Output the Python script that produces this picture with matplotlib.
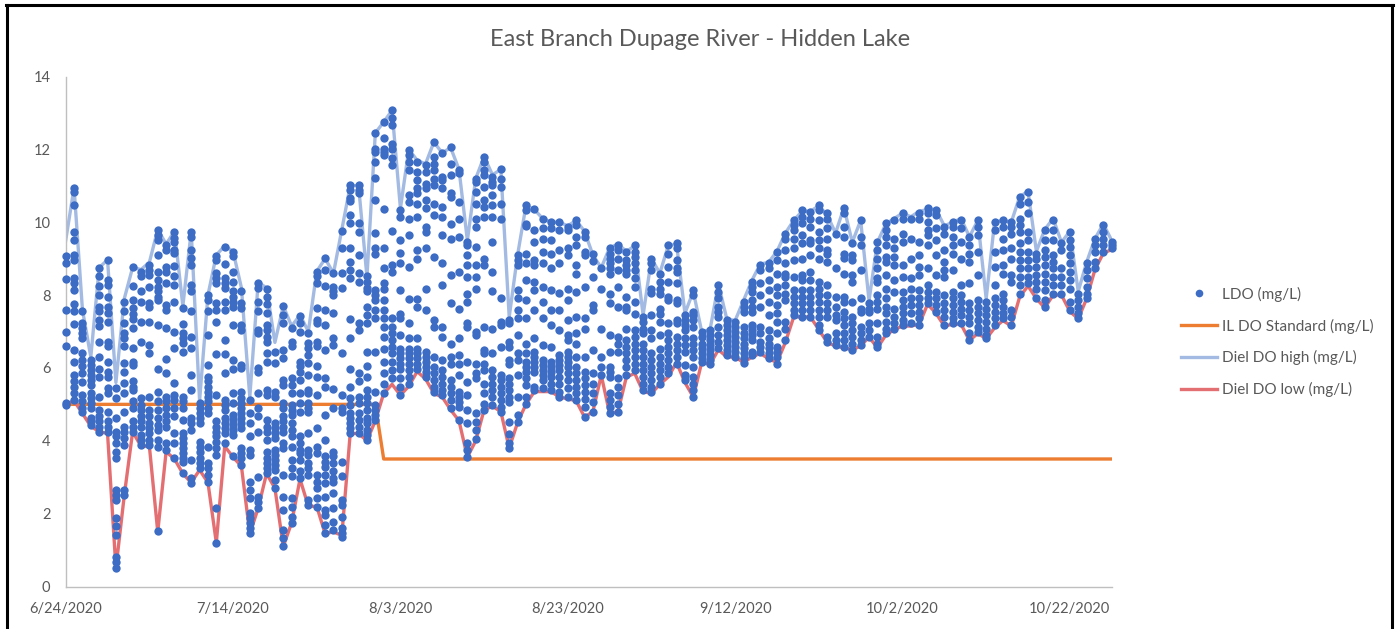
import matplotlib
matplotlib.use("Agg")
import matplotlib.pyplot as plt
import numpy as np
import pandas as pd
from matplotlib.lines import Line2D

dates = pd.date_range("2020-06-24", periods=126)
tick_dates = pd.to_datetime(["2020-06-24", "2020-07-14", "2020-08-03", "2020-08-23",
                             "2020-09-12", "2020-10-02", "2020-10-22"])
tick_labels = ["6/24/2020", "7/14/2020", "8/3/2020", "8/23/2020",
               "9/12/2020", "10/2/2020", "10/22/2020"]
y_ticks = [0, 2, 4, 6, 8, 10, 12, 14]

diel_high = [
    9.5, 10.95, 7.6, 6.3, 8.75, 8.97, 5.6, 7.9, 8.76, 8.7, 8.9, 9.8, 9.4, 9.75, 7.7, 9.75, 5.1, 8.0, 9.1, 9.35,
    9.2, 8.2, 5.2, 8.35, 8.2, 6.7, 7.7, 7.15, 7.45, 7.0, 8.65, 9.0, 8.6, 9.8, 11.0, 11.0, 8.5, 12.45, 12.75, 13.07,
    10.38, 12.0, 11.7, 11.6, 12.2, 11.9, 12.05, 11.45, 9.5, 11.2, 11.8, 11.3, 11.45, 7.4, 9.1, 10.45, 10.35, 10.1, 10.0, 10.0,
    9.9, 10.05, 9.75, 9.1, 8.75, 9.3, 9.4, 9.2, 9.35, 7.45, 9.0, 8.6, 9.35, 9.4, 7.5, 8.1, 7.0, 7.05, 8.3, 7.35,
    7.3, 7.85, 8.4, 8.85, 8.9, 9.2, 9.7, 10.05, 10.3, 10.3, 10.45, 10.2, 9.7, 10.4, 9.45, 10.05, 7.85, 9.45, 9.95, 10.1,
    10.25, 10.15, 10.3, 10.35, 10.35, 9.9, 10.0, 10.1, 9.6, 10.05, 7.9, 10.0, 10.05, 10.0, 10.7, 10.85, 9.2, 9.8, 10.1, 9.45,
    9.75, 8.1, 8.9, 9.55, 9.95, 9.5,
]
diel_low = [
    5.0, 5.1, 4.75, 4.4, 4.25, 4.2, 0.5, 2.5, 4.25, 3.85, 3.85, 1.5, 3.7, 3.5, 3.1, 2.85, 3.2, 2.85, 1.2, 3.85,
    3.55, 3.3, 1.45, 2.15, 3.1, 2.7, 1.1, 1.75, 2.95, 2.2, 2.2, 1.45, 1.5, 1.4, 4.2, 4.2, 4.0, 4.55, 5.3, 5.55,
    5.25, 5.5, 5.9, 5.7, 5.3, 5.2, 4.85, 4.55, 3.55, 4.0, 4.85, 4.95, 4.8, 3.8, 4.5, 5.0, 5.35, 5.35, 5.35, 5.2,
    5.15, 5.1, 4.65, 4.8, 5.8, 4.75, 4.8, 5.75, 5.85, 5.35, 5.3, 5.55, 5.75, 6.15, 5.6, 5.2, 6.15, 6.1, 6.5, 6.3,
    6.3, 6.15, 6.3, 6.4, 6.25, 6.15, 6.7, 7.4, 7.4, 7.4, 7.05, 6.7, 6.6, 6.55, 6.5, 6.6, 6.85, 6.55, 6.9, 7.05,
    7.15, 7.15, 7.2, 7.75, 7.5, 7.15, 7.2, 7.2, 6.75, 6.95, 6.8, 7.1, 7.3, 7.15, 7.95, 8.25, 7.9, 7.65, 8.0, 8.0,
    7.55, 7.35, 7.9, 8.7, 9.15, 9.25,
]
il_standard = [5.0] * 38 + [3.5] * 88

ldo = [
    [9.06, 8.87, 8.43, 7.59, 7.0, 6.59, 5.05, 4.98],
    [10.93, 10.84, 10.47, 9.74, 9.5, 9.1, 8.97, 8.46, 8.32, 8.14, 7.76, 7.55, 7.21, 6.48, 6.15, 5.81, 5.63, 5.49, 5.3, 5.12],
    [7.55, 7.23, 7.09, 6.95, 6.82, 6.4, 6.22, 6.04, 5.85, 5.62, 5.26, 5.08, 4.89, 4.8],
    [6.22, 6.08, 5.95, 5.81, 5.67, 5.53, 5.3, 5.17, 5.03, 4.89, 4.62, 4.53, 4.44],
    [8.74, 8.51, 8.25, 8.0, 7.68, 7.55, 7.32, 7.14, 6.71, 6.3, 5.96, 5.74, 5.19, 4.85, 4.67, 4.53, 4.39, 4.25],
    [8.97, 8.42, 8.28, 7.96, 7.68, 7.5, 7.27, 6.7, 6.6, 6.17, 5.9, 5.76, 5.44, 5.3, 4.8, 4.53, 4.39, 4.25],
    [5.44, 5.17, 4.62, 4.25, 4.12, 3.93, 3.7, 3.52, 2.65, 2.51, 2.38, 1.87, 1.65, 1.42, 0.82, 0.68, 0.5],
    [7.82, 7.55, 7.23, 6.95, 6.82, 6.59, 6.13, 5.9, 5.58, 5.3, 4.8, 4.39, 4.25, 4.07, 3.89, 2.65, 2.51],
    [8.76, 8.25, 7.87, 7.64, 7.48, 7.34, 7.09, 6.54, 6.17, 6.08, 5.63, 5.49, 5.4, 5.08, 4.89, 4.53, 4.39, 4.25],
    [8.64, 8.51, 8.1, 7.82, 7.27, 6.72, 5.17, 4.98, 4.85, 4.67, 4.53, 4.39, 4.16, 4.03, 3.89],
    [8.83, 8.69, 8.55, 8.23, 7.78, 7.68, 7.27, 6.63, 6.4, 5.21, 4.85, 4.67, 4.48, 4.35, 4.21, 4.03, 3.89],
    [9.79, 9.65, 9.51, 9.1, 8.64, 8.42, 8.23, 8.1, 7.96, 7.87, 7.18, 5.96, 5.35, 5.08, 4.85, 4.62, 4.44, 4.3, 4.03, 3.84, 1.51],
    [9.38, 9.24, 8.78, 8.64, 8.32, 7.73, 7.59, 7.09, 6.24, 5.85, 5.21, 5.08, 4.89, 4.71, 4.53, 4.39, 3.93, 3.75],
    [9.74, 9.56, 9.47, 9.24, 9.15, 8.8, 8.53, 8.28, 7.82, 7.0, 6.54, 5.6, 5.26, 5.12, 4.89, 4.67, 4.21, 3.93, 3.52],
    [7.64, 7.2, 6.95, 6.82, 6.68, 6.45, 5.21, 5.08, 4.89, 4.57, 4.21, 4.07, 3.93, 3.8, 3.66, 3.52, 3.43, 3.11],
    [9.74, 9.6, 9.24, 9.01, 8.83, 8.28, 8.1, 7.57, 6.86, 6.54, 5.81, 5.4, 4.62, 4.48, 4.3, 3.48, 2.97, 2.83],
    [5.03, 4.89, 4.76, 4.62, 4.48, 3.98, 3.84, 3.7, 3.52, 3.39, 3.25],
    [8.0, 7.87, 7.55, 6.91, 6.08, 5.76, 5.63, 5.49, 5.35, 5.21, 5.08, 4.89, 4.76, 3.84, 3.39, 3.25, 3.06, 2.88],
    [9.06, 8.97, 8.6, 8.46, 8.32, 7.78, 7.59, 7.25, 6.39, 5.26, 4.53, 4.39, 4.25, 4.12, 3.98, 3.8, 3.61, 2.15, 1.19],
    [9.33, 8.86, 8.46, 8.32, 8.19, 7.82, 7.59, 6.77, 6.39, 5.87, 5.12, 4.98, 4.85, 4.62, 4.48, 4.35, 4.21, 3.93],
    [9.19, 9.06, 8.64, 8.37, 8.1, 7.96, 7.82, 7.68, 7.18, 6.22, 5.96, 5.3, 5.03, 4.71, 4.57, 4.44, 4.3, 4.16, 3.57],
    [8.1, 7.78, 7.64, 7.18, 7.04, 6.08, 5.99, 5.35, 5.17, 5.03, 4.89, 4.76, 4.62, 4.48, 4.35, 3.8, 3.66, 3.52, 3.34],
    [5.12, 4.76, 4.48, 4.12, 3.75, 3.61, 2.88, 2.65, 2.42, 2.01, 1.87, 1.74, 1.6, 1.46],
    [8.32, 8.19, 7.82, 7.55, 7.04, 6.95, 5.99, 5.9, 5.3, 4.89, 4.67, 4.25, 3.0, 2.47, 2.33, 2.15],
    [8.17, 7.96, 7.76, 7.5, 7.18, 7.04, 6.86, 6.72, 6.4, 6.17, 5.4, 5.26, 4.57, 4.39, 4.25, 4.03, 3.7, 3.52, 3.39, 3.25, 3.11],
    [6.45, 6.13, 5.35, 5.21, 4.48, 4.35, 4.21, 4.07, 3.75, 3.61, 3.48, 3.34, 3.2, 2.93, 2.7],
    [7.7, 7.46, 7.23, 6.5, 6.27, 5.67, 5.53, 5.03, 4.89, 4.67, 4.53, 4.39, 4.25, 3.93, 3.8, 3.06, 2.47, 2.1, 1.55, 1.32, 1.1],
    [7.09, 6.72, 6.59, 5.72, 5.53, 5.3, 4.98, 4.85, 4.71, 4.48, 4.3, 4.12, 3.84, 3.48, 3.25, 3.02, 2.42, 2.19, 1.92, 1.74],
    [7.43, 7.23, 7.0, 6.17, 6.04, 5.9, 5.67, 5.3, 5.03, 4.8, 4.12, 3.93, 3.75, 3.66, 3.48, 3.16, 2.97],
    [6.95, 6.68, 6.54, 6.36, 6.13, 5.81, 5.4, 5.3, 5.03, 4.89, 4.8, 4.21, 3.75, 3.61, 3.39, 3.25, 3.06, 2.38, 2.24],
    [8.64, 8.51, 8.32, 7.64, 7.32, 7.23, 6.72, 6.59, 6.04, 5.76, 5.26, 4.35, 3.84, 3.66, 3.06, 2.88, 2.7, 2.42, 2.19],
    [9.01, 8.69, 8.25, 7.59, 7.18, 6.5, 5.72, 5.49, 4.71, 4.03, 3.57, 3.43, 3.29, 3.06, 2.83, 2.47, 2.1, 1.97, 1.69, 1.46],
    [8.6, 8.23, 8.1, 8.0, 7.5, 6.82, 6.63, 5.41, 4.89, 3.7, 3.57, 3.39, 3.16, 2.97, 2.88, 2.56, 2.15, 1.78, 1.55],
    [9.77, 9.29, 8.6, 8.19, 6.42, 5.26, 4.89, 4.8, 3.43, 3.02, 2.38, 2.24, 1.92, 1.6, 1.46, 1.37],
    [11.02, 10.89, 10.66, 10.57, 10.2, 9.99, 9.29, 8.92, 8.69, 8.46, 7.34, 6.82, 5.96, 5.49, 5.17, 4.98, 4.76, 4.62, 4.48, 4.35, 4.21],
    [11.02, 10.89, 10.8, 9.99, 9.74, 9.1, 8.6, 8.37, 7.23, 7.04, 5.85, 5.63, 5.21, 5.03, 4.76, 4.57, 4.39, 4.21],
    [8.51, 8.37, 8.19, 8.1, 7.68, 7.46, 7.23, 6.45, 6.06, 5.76, 5.4, 5.21, 5.03, 4.85, 4.62, 4.48, 4.3, 4.16, 4.03],
    [12.45, 12.02, 11.93, 11.66, 11.22, 10.62, 9.71, 9.28, 9.14, 8.13, 8.0, 7.86, 7.59, 7.36, 6.44, 5.35, 4.98, 4.85, 4.71, 4.57],
    [12.76, 12.32, 12.02, 11.93, 11.84, 10.35, 9.28, 8.75, 8.32, 8.18, 7.86, 7.59, 7.36, 7.13, 6.85, 6.53, 6.17, 5.85, 5.57, 5.3],
    [13.07, 12.85, 12.66, 12.16, 12.02, 11.75, 11.57, 9.76, 8.82, 8.64, 7.36, 7.13, 6.95, 6.76, 6.58, 6.4, 6.17, 5.94, 5.71],
    [10.33, 10.15, 9.51, 9.16, 8.87, 8.15, 7.49, 7.36, 6.9, 6.53, 6.4, 6.26, 6.12, 5.98, 5.71, 5.48, 5.25],
    [11.98, 11.84, 11.66, 11.43, 10.74, 10.56, 10.1, 9.64, 8.77, 7.88, 7.22, 6.81, 6.53, 6.4, 6.26, 6.12, 5.94, 5.76, 5.57],
    [11.66, 11.38, 11.15, 10.93, 10.79, 10.51, 10.15, 9.23, 8.98, 7.88, 7.68, 6.81, 6.53, 6.4, 6.26, 6.12, 5.98],
    [11.57, 11.38, 11.06, 10.93, 10.6, 10.38, 9.87, 9.73, 9.28, 8.18, 7.6, 6.44, 6.3, 6.17, 6.03, 5.89, 5.76],
    [12.21, 11.79, 11.61, 11.43, 11.2, 11.02, 10.51, 10.19, 9.05, 7.31, 7.13, 6.3, 6.03, 5.85, 5.66, 5.48, 5.34],
    [11.89, 11.25, 11.15, 10.93, 10.42, 10.13, 9.64, 8.87, 8.27, 7.13, 6.85, 6.21, 5.94, 5.76, 5.57, 5.39, 5.25],
    [12.07, 11.61, 11.29, 10.79, 10.7, 9.96, 9.55, 8.55, 7.77, 6.67, 6.3, 6.12, 5.66, 5.48, 5.3, 5.12, 4.89],
    [11.43, 11.34, 10.56, 10.1, 9.6, 8.64, 7.63, 6.81, 6.35, 6.12, 5.8, 5.35, 5.21, 5.07, 4.93, 4.57],
    [9.46, 9.37, 9.1, 8.82, 8.5, 8.04, 7.81, 7.22, 7.13, 6.17, 5.62, 5.25, 4.84, 4.48, 3.93, 3.75, 3.56],
    [11.2, 11.11, 10.83, 10.51, 10.1, 9.87, 9.32, 8.82, 8.5, 8.18, 6.99, 6.9, 6.12, 5.85, 5.71, 4.75, 4.52, 4.29, 4.06],
    [11.79, 11.66, 11.43, 11.29, 10.97, 10.6, 10.42, 10.13, 8.98, 8.82, 7.13, 6.49, 6.4, 6.12, 5.94, 5.57, 5.3, 5.02, 4.84],
    [11.25, 11.11, 11.02, 10.74, 10.47, 10.15, 9.46, 8.64, 8.12, 7.08, 6.4, 5.94, 5.76, 5.57, 5.39, 5.21, 4.98],
    [11.46, 11.2, 10.97, 10.51, 10.1, 7.91, 7.27, 7.17, 6.58, 5.8, 5.66, 5.48, 5.3, 5.12, 4.93, 4.8],
    [7.31, 7.22, 6.72, 6.58, 6.21, 6.12, 5.71, 5.57, 5.39, 5.21, 5.07, 4.52, 4.2, 3.93, 3.79],
    [9.1, 8.96, 8.82, 8.13, 7.91, 7.6, 7.36, 6.9, 6.4, 6.21, 5.8, 5.21, 4.71, 4.52],
    [10.47, 10.33, 9.96, 9.89, 9.14, 8.88, 8.41, 7.86, 7.36, 6.67, 6.4, 6.17, 6.03, 5.89, 5.71, 5.53, 5.21, 5.02],
    [10.35, 9.78, 9.46, 8.96, 8.82, 8.36, 8.13, 7.59, 6.81, 6.44, 6.3, 6.17, 6.03, 5.89, 5.48, 5.39],
    [10.1, 9.83, 9.55, 9.19, 8.87, 8.22, 7.81, 7.36, 6.62, 6.21, 6.08, 5.94, 5.8, 5.66, 5.44],
    [10.01, 9.83, 9.51, 9.14, 8.73, 8.13, 7.59, 7.17, 6.58, 6.17, 6.03, 5.89, 5.76, 5.57, 5.39],
    [10.01, 9.78, 9.23, 8.87, 8.06, 7.59, 7.04, 6.35, 6.21, 6.08, 5.94, 5.76, 5.57, 5.34, 5.21],
    [9.87, 9.78, 9.28, 9.1, 8.18, 7.86, 7.31, 6.9, 6.76, 6.44, 6.3, 6.17, 6.03, 5.85, 5.66, 5.44, 5.21],
    [10.06, 9.92, 9.6, 9.37, 8.82, 8.59, 8.09, 7.4, 6.95, 6.67, 6.3, 6.03, 5.85, 5.66, 5.48, 5.3, 5.12],
    [9.73, 9.6, 9.19, 9.1, 8.23, 7.36, 7.08, 6.3, 5.89, 5.71, 5.53, 5.35, 5.16, 4.93, 4.66],
    [9.12, 8.94, 8.5, 7.72, 7.6, 6.49, 5.85, 5.57, 5.3, 5.07, 4.79],
    [8.75, 8.18, 7.08, 6.3, 6.03, 5.8],
    [9.28, 9.14, 9.0, 8.87, 8.73, 8.59, 8.04, 7.77, 6.9, 6.44, 6.03, 5.89, 5.76, 5.3, 5.12, 4.93, 4.75],
    [9.37, 9.23, 9.0, 8.68, 8.23, 7.68, 6.85, 6.67, 6.44, 5.71, 5.48, 5.25, 5.02, 4.79],
    [9.19, 8.96, 8.82, 8.68, 8.59, 7.95, 7.68, 7.59, 7.08, 6.76, 6.58, 6.4, 6.21, 6.03, 5.8],
    [9.37, 9.19, 9.05, 8.87, 8.68, 8.46, 8.23, 7.81, 7.49, 7.04, 6.85, 6.67, 6.49, 6.3, 6.12, 5.94],
    [7.4, 7.27, 7.08, 6.95, 6.67, 6.49, 6.3, 6.12, 5.94, 5.76, 5.57, 5.39],
    [9.0, 8.87, 8.68, 8.18, 8.06, 7.45, 7.04, 6.81, 6.4, 6.21, 6.03, 5.85, 5.66, 5.48, 5.34],
    [8.59, 8.36, 8.18, 8.04, 7.63, 7.49, 7.27, 6.9, 6.53, 6.3, 6.12, 5.94, 5.76, 5.57],
    [9.37, 9.14, 8.77, 8.36, 7.95, 7.86, 7.22, 6.95, 6.76, 6.58, 6.4, 6.21, 6.03, 5.85],
    [9.42, 9.28, 8.96, 8.73, 8.64, 8.32, 7.86, 7.77, 7.31, 7.22, 6.85, 6.67, 6.49, 6.3, 6.12],
    [7.45, 7.31, 7.17, 7.04, 6.81, 6.62, 6.44, 6.08, 5.8, 5.66],
    [8.13, 8.0, 7.54, 7.45, 7.31, 7.13, 6.81, 6.67, 6.49, 6.3, 6.03, 5.76, 5.57, 5.39, 5.21],
    [6.99, 6.86, 6.67, 6.54, 6.4, 6.26, 6.17],
    [7.04, 6.9, 6.76, 6.63, 6.49, 6.35, 6.21, 6.12],
    [8.27, 8.09, 7.91, 7.68, 7.54, 7.4, 7.13, 6.9, 6.72, 6.54],
    [7.31, 7.18, 7.04, 6.9, 6.76, 6.63, 6.49, 6.35],
    [7.27, 7.13, 6.99, 6.86, 6.72, 6.58, 6.44, 6.31],
    [7.82, 7.68, 7.54, 7.13, 6.95, 6.81, 6.67, 6.54, 6.4, 6.26, 6.14],
    [8.36, 8.23, 8.09, 7.86, 7.68, 7.54, 7.18, 7.04, 6.9, 6.76, 6.44, 6.35],
    [8.82, 8.69, 8.32, 8.0, 7.68, 7.13, 6.95, 6.72, 6.58, 6.44],
    [8.87, 8.73, 8.41, 8.14, 7.82, 7.45, 7.04, 6.81, 6.67, 6.54, 6.4, 6.26],
    [9.19, 8.96, 8.59, 8.23, 8.0, 7.72, 7.5, 7.27, 6.95, 6.58, 6.44, 6.31, 6.12],
    [9.69, 9.55, 9.23, 8.87, 8.59, 8.5, 8.27, 8.04, 7.86, 7.27, 7.08, 6.76],
    [10.06, 9.92, 9.78, 9.55, 9.28, 8.96, 8.5, 8.14, 7.95, 7.77, 7.59, 7.45],
    [10.33, 10.15, 9.97, 9.65, 9.42, 9.0, 8.55, 8.41, 8.14, 7.95, 7.77, 7.59, 7.4],
    [10.29, 10.1, 9.87, 9.51, 9.42, 9.1, 8.64, 8.41, 8.14, 7.95, 7.77, 7.59, 7.4],
    [10.47, 10.33, 10.06, 9.74, 9.51, 9.28, 9.0, 8.37, 8.18, 8.0, 7.82, 7.59, 7.4, 7.18, 7.04],
    [10.24, 10.1, 9.83, 9.55, 9.23, 9.14, 8.91, 8.27, 8.0, 7.77, 7.59, 7.4, 6.86, 6.72],
    [9.69, 8.73, 7.95, 7.68, 7.45, 7.31, 6.95, 6.76, 6.63],
    [10.38, 10.24, 9.87, 9.6, 9.14, 9.03, 8.58, 7.95, 7.82, 7.54, 7.36, 7.18, 6.95, 6.76, 6.58],
    [9.42, 9.1, 8.96, 8.55, 8.37, 7.82, 7.4, 7.22, 7.04, 6.86, 6.67, 6.49],
    [10.06, 9.6, 9.37, 8.69, 7.91, 7.63, 7.54, 7.13, 6.95, 6.76, 6.63],
    [7.77, 7.63, 7.54, 7.22, 7.04, 6.86],
    [9.46, 9.23, 9.0, 8.73, 8.46, 8.37, 8.0, 7.82, 7.63, 7.22, 6.86, 6.67, 6.58],
    [9.97, 9.78, 9.6, 9.37, 9.05, 8.91, 8.55, 8.18, 7.91, 7.68, 7.5, 7.27, 7.08, 6.95],
    [10.06, 9.55, 9.28, 9.05, 8.82, 8.41, 8.09, 7.63, 7.4, 7.22, 7.08],
    [10.24, 10.1, 9.69, 9.46, 8.82, 8.5, 8.09, 7.86, 7.68, 7.5, 7.31, 7.18],
    [10.1, 9.55, 9.0, 8.46, 8.18, 7.91, 7.72, 7.5, 7.22],
    [10.24, 10.1, 9.46, 9.1, 8.78, 8.55, 8.14, 7.91, 7.72, 7.54, 7.36, 7.18],
    [10.38, 10.24, 10.01, 9.78, 9.65, 9.37, 8.73, 8.27, 8.09, 7.91, 7.77],
    [10.33, 10.19, 9.83, 9.51, 9.1, 8.55, 8.09, 7.91, 7.72, 7.54],
    [9.87, 9.69, 9.23, 8.91, 8.69, 8.5, 8.0, 7.77, 7.59, 7.4, 7.18],
    [10.01, 9.87, 9.6, 9.37, 9.14, 8.69, 8.09, 7.91, 7.72, 7.54, 7.36, 7.22],
    [10.06, 9.83, 9.46, 9.0, 8.27, 8.0, 7.82, 7.63, 7.45, 7.22],
    [9.6, 9.37, 9.14, 8.91, 8.32, 7.77, 7.59, 7.4, 7.22, 6.95, 6.76],
    [10.06, 9.87, 9.65, 9.19, 8.55, 7.86, 7.68, 7.5, 7.31, 7.13, 6.99],
    [7.82, 7.63, 7.45, 7.27, 7.08, 6.9, 6.81],
    [10.01, 9.78, 9.19, 8.78, 8.27, 7.91, 7.72, 7.54, 7.36, 7.18],
    [10.06, 9.87, 9.55, 9.23, 8.82, 8.59, 8.04, 7.86, 7.68, 7.5, 7.36],
    [10.01, 9.87, 9.69, 9.28, 9.0, 8.55, 8.37, 7.59, 7.4, 7.18],
    [10.7, 10.51, 10.1, 9.92, 9.74, 9.42, 9.19, 8.96, 8.73, 8.5, 8.27, 8.04],
    [10.84, 10.56, 10.24, 9.74, 9.51, 9.19, 8.96, 8.73, 8.5, 8.32],
    [9.14, 9.0, 8.78, 8.55, 8.37, 8.18, 7.91],
    [9.78, 9.51, 9.23, 9.05, 8.82, 8.59, 8.37, 8.14, 7.86, 7.68],
    [10.06, 9.78, 9.51, 9.1, 8.91, 8.73, 8.5, 8.27, 8.04],
    [9.42, 9.23, 8.73, 8.5, 8.27, 8.04],
    [9.74, 9.51, 9.33, 9.1, 8.87, 8.64, 8.41, 8.18, 7.82, 7.59],
    [8.04, 7.86, 7.68, 7.5, 7.36],
    [8.87, 8.69, 8.46, 8.23, 8.04, 7.91],
    [9.55, 9.37, 9.19, 8.91, 8.73],
    [9.92, 9.74, 9.55, 9.37, 9.19],
    [9.46, 9.37, 9.28],
]

TEXT = "#595959"
plt.rcParams["font.family"] = ["Lato", "DejaVu Sans"]

fig = plt.figure(figsize=(14, 6.29), dpi=100)
ax = fig.add_axes([65.7 / 1400, 1 - 586.5 / 629, 1046 / 1400, 510 / 629])

ax.plot(dates, il_standard, color="#ED7D31", lw=2.4, zorder=2)
ax.plot(dates, diel_high, color="#A3BAE2", lw=2.4, zorder=2)
ax.plot(dates, diel_low, color="#E46F72", lw=2.4, zorder=2)
ldo_x = np.repeat(dates.values, [len(v) for v in ldo])
ldo_y = [v for day in ldo for v in day]
ax.scatter(ldo_x, ldo_y, s=36, color="#3C6CC4", linewidths=0, zorder=3, clip_on=False)

ax.set_xlim(dates[0], dates[-1])
ax.set_ylim(0, 14)
ax.set_xticks(tick_dates)
ax.set_xticklabels(tick_labels)
ax.set_yticks(y_ticks)
ax.tick_params(length=0, labelsize=10.5, labelcolor=TEXT)
ax.tick_params(axis="x", pad=11)
ax.tick_params(axis="y", pad=11)
for side in ["top", "right"]:
    ax.spines[side].set_visible(False)
for side in ["left", "bottom"]:
    ax.spines[side].set_color("#BFBFBF")
    ax.spines[side].set_linewidth(1.0)

fig.text(700 / 1400, 1 - 39.5 / 629, "East Branch Dupage River - Hidden Lake",
         ha="center", va="center", fontsize=17, color=TEXT)

handles = [
    Line2D([], [], ls="", marker="o", ms=5.5, color="#3C6CC4", mew=0),
    Line2D([], [], color="#ED7D31", lw=2.4),
    Line2D([], [], color="#A3BAE2", lw=2.4),
    Line2D([], [], color="#E46F72", lw=2.4),
]
names = ["LDO (mg/L)", "IL DO Standard (mg/L)", "Diel DO high (mg/L)", "Diel DO low (mg/L)"]
fig.legend(handles, names, loc="center left", bbox_to_anchor=(1181 / 1400, 1 - 342 / 629),
           frameon=False, fontsize=11, labelcolor=TEXT, handlelength=2.36, handletextpad=0.33,
           labelspacing=1.1, borderpad=0, borderaxespad=0)

# black frame around the pasted chart, open at the bottom
for xs, ys in [((7, 7), (5, 629)), ((6, 1393), (5, 5)), ((1392, 1392), (5, 629))]:
    fig.add_artist(Line2D([x / 1400 for x in xs], [1 - y / 629 for y in ys], color="black", lw=2.2))

fig.savefig("out.png", dpi=100)
plt.close(fig)
